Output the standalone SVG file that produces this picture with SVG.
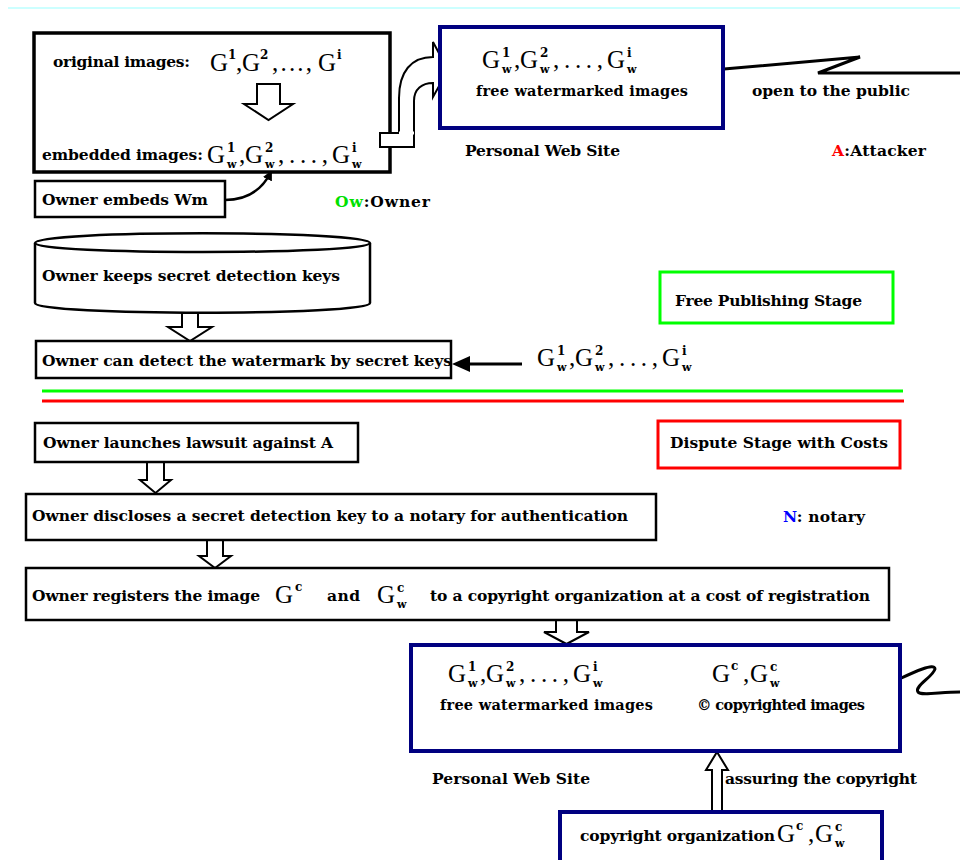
<svg xmlns="http://www.w3.org/2000/svg" width="960" height="860" viewBox="0 0 960 860">
<defs>
<style>
.t{font-family:"DejaVu Serif","Liberation Serif",serif;font-weight:bold;font-size:15.5px;fill:#000}
.ts{font-family:"DejaVu Serif","Liberation Serif",serif;font-weight:bold;font-size:14.5px;fill:#000}
.g{font-family:"Liberation Serif","Times New Roman",serif;font-size:25px;fill:#000}
.sp{font-family:"DejaVu Serif","Liberation Serif",serif;font-weight:bold;font-size:12px;fill:#000}
.sb{font-family:"DejaVu Serif","Liberation Serif",serif;font-weight:bold;font-size:11px;fill:#000}
.box{fill:#fff;stroke:#000;stroke-width:2.5}
.box1{fill:#fff;stroke:#000;stroke-width:3.5}
.web{fill:#fff;stroke:#000080;stroke-width:4}
.hol{fill:#fff;stroke:#000;stroke-width:2}
.ln{fill:none;stroke:#000;stroke-width:2.5}
</style>
<marker id="ah" markerWidth="10" markerHeight="10" refX="8" refY="5" orient="auto" markerUnits="userSpaceOnUse">
<path d="M0,0 L10,5 L0,10 Z" fill="#000"/>
</marker>
</defs>
<rect width="960" height="860" fill="#fff"/>
<line x1="8" y1="8" x2="960" y2="8" stroke="#ccffff" stroke-width="2"/>

<g id="connectors">
<path class="hol" d="M399 140 L399 98 C399 72 411 57 433 57 L433 42 L448 70 L433 97 L433 83 C422 83 414 89 414 101 L414 140 Z"/>
<path class="ln" d="M225 200 C247 200 262 190 271 172" marker-end="url(#ah)"/>
<path d="M724 69 L860 57 L818 73 L960 73" fill="none" stroke="#000" stroke-width="3" stroke-linejoin="miter"/>
<path d="M897 680 C912 673 935 662 935 669 C933 677 914 686 918 692 C921 696 940 692 960 692" fill="none" stroke="#000" stroke-width="3"/>
<path class="hol" d="M182 313 L198 313 L198 327 L212 327 L190 341 L168 327 L182 327 Z"/>
<path class="hol" d="M147 462 L164 462 L164 480 L171 480 L155.5 493 L140 480 L147 480 Z"/>
<path class="hol" d="M207 540 L223 540 L223 556 L231 556 L215 568 L199 556 L207 556 Z"/>
<path class="hol" d="M556 620 L577 620 L577 632 L589 632 L566.5 644 L544 632 L556 632 Z"/>
<path class="hol" d="M712 812 L722 812 L722 770 L728 770 L717 752 L706 770 L712 770 Z"/>
<line x1="522" y1="364" x2="466" y2="364" stroke="#000" stroke-width="3"/>
<polygon points="452,364 470,356 470,372" fill="#000"/>
<line x1="42" y1="391" x2="903" y2="391" stroke="#00ff00" stroke-width="3"/>
<line x1="42" y1="401" x2="904" y2="401" stroke="#ff0000" stroke-width="3"/>
</g>

<g id="original">
<rect class="box1" x="34" y="33" width="356" height="139"/>
<text class="t" x="53" y="67" textLength="137">original images:</text>
<text class="g" x="210" y="71">G</text><text class="sp" x="228" y="59">1</text>
<text class="g" x="236" y="71">,</text>
<text class="g" x="242" y="71">G</text><text class="sp" x="260" y="59">2</text>
<text class="g" x="272" y="71" textLength="40" lengthAdjust="spacing">,...,</text>
<text class="g" x="318" y="71">G</text><text class="sp" x="337" y="59">i</text>
<path class="hol" d="M257 84 L280 84 L280 104 L293 104 L268.5 120 L244 104 L257 104 Z"/>
<text class="t" x="42" y="160" textLength="161">embedded images:</text>
<text class="g" x="207" y="163">G</text><text class="sp" x="227" y="152">1</text><text class="sb" x="227" y="168">w</text>
<text class="g" x="239" y="163">,</text>
<text class="g" x="245" y="163">G</text><text class="sp" x="265" y="152">2</text><text class="sb" x="265" y="168">w</text>
<text class="g" x="278" y="163" textLength="50" lengthAdjust="spacing">,...,</text>
<text class="g" x="332" y="163">G</text><text class="sp" x="352" y="152">i</text><text class="sb" x="352" y="168">w</text>
<rect class="hol" x="380" y="133" width="34" height="14"/>
<line x1="399" y1="133" x2="414" y2="133" stroke="#fff" stroke-width="3"/>
</g>

<g id="embed">
<rect class="box" x="35" y="181" width="190" height="36"/>
<text class="t" x="42" y="205" textLength="166">Owner embeds Wm</text>
</g>

<g id="legend-owner">
<text class="t" x="335" y="207" textLength="95"><tspan fill="#00e000">Ow</tspan>:Owner</text>
</g>

<g id="website-top">
<rect class="web" x="440" y="27" width="283" height="101"/>
<text class="g" x="482" y="68">G</text><text class="sp" x="502" y="57">1</text><text class="sb" x="502" y="73">w</text>
<text class="g" x="514" y="68">,</text>
<text class="g" x="520" y="68">G</text><text class="sp" x="540" y="57">2</text><text class="sb" x="540" y="73">w</text>
<text class="g" x="553" y="68" textLength="50" lengthAdjust="spacing">,...,</text>
<text class="g" x="607" y="68">G</text><text class="sp" x="627" y="57">i</text><text class="sb" x="627" y="73">w</text>
<text class="ts" x="476" y="96" textLength="212">free watermarked images</text>
</g>
<text class="t" x="465" y="156" textLength="155">Personal Web Site</text>
<text class="t" x="752" y="96" textLength="158">open to the public</text>
<text class="t" x="832" y="156" textLength="94"><tspan fill="#ff0000">A</tspan>:Attacker</text>

<g id="keys">
<path class="box" d="M35 243 C35 230 370 230 370 243 L370 303 C370 316 35 316 35 303 Z"/>
<path class="ln" d="M35 243 C35 255 370 255 370 243"/>
<text class="t" x="42" y="281" textLength="298">Owner keeps secret detection keys</text>
</g>

<g id="free-stage">
<rect x="660" y="272" width="233" height="51" fill="#fff" stroke="#00ff00" stroke-width="3"/>
<text class="t" x="675" y="306" textLength="187">Free Publishing Stage</text>
</g>

<g id="detect">
<rect class="box" x="36" y="341" width="415" height="37"/>
<text class="t" x="42" y="366" textLength="410">Owner can detect the watermark by secret keys</text>
</g>
<g id="public-images">
<text class="g" x="537" y="366">G</text><text class="sp" x="557" y="355">1</text><text class="sb" x="557" y="371">w</text>
<text class="g" x="569" y="366">,</text>
<text class="g" x="575" y="366">G</text><text class="sp" x="595" y="355">2</text><text class="sb" x="595" y="371">w</text>
<text class="g" x="608" y="366" textLength="50" lengthAdjust="spacing">,...,</text>
<text class="g" x="662" y="366">G</text><text class="sp" x="682" y="355">i</text><text class="sb" x="682" y="371">w</text>
</g>

<g id="lawsuit">
<rect class="box" x="35" y="423" width="323" height="39"/>
<text class="t" x="43" y="448" textLength="290">Owner launches lawsuit against A</text>
</g>

<g id="dispute-stage">
<rect x="658" y="421" width="242" height="47" fill="#fff" stroke="#ff0000" stroke-width="3"/>
<text class="t" x="670" y="448" textLength="218">Dispute Stage with Costs</text>
</g>

<g id="disclose">
<rect class="box" x="26" y="494" width="630" height="46"/>
<text class="t" x="32" y="521" textLength="596">Owner discloses a secret detection key to a notary for authentication</text>
</g>
<text class="t" x="783" y="522" textLength="82"><tspan fill="#0000ff">N</tspan>: notary</text>

<g id="register">
<rect class="box" x="26" y="568" width="863" height="52"/>
<text class="t" x="32" y="601" textLength="228">Owner registers the image</text>
<text class="g" x="275" y="603">G</text><text class="sp" x="295" y="591">c</text>
<text class="t" x="327" y="601" textLength="33">and</text>
<text class="g" x="377" y="603">G</text><text class="sp" x="397" y="592">c</text><text class="sb" x="397" y="608">w</text>
<text class="t" x="430" y="601" textLength="440">to a copyright organization at a cost of registration</text>
</g>

<g id="website-bottom">
<rect class="web" x="411" y="645" width="489" height="106"/>
<text class="g" x="448" y="682">G</text><text class="sp" x="468" y="671">1</text><text class="sb" x="468" y="687">w</text>
<text class="g" x="480" y="682">,</text>
<text class="g" x="486" y="682">G</text><text class="sp" x="506" y="671">2</text><text class="sb" x="506" y="687">w</text>
<text class="g" x="519" y="682" textLength="50" lengthAdjust="spacing">,...,</text>
<text class="g" x="573" y="682">G</text><text class="sp" x="593" y="671">i</text><text class="sb" x="593" y="687">w</text>
<text class="ts" x="440" y="710" textLength="213">free watermarked images</text>
<text class="g" x="712" y="682">G</text><text class="sp" x="731" y="670">c</text>
<text class="g" x="743" y="682">,</text>
<text class="g" x="750" y="682">G</text><text class="sp" x="770" y="671">c</text><text class="sb" x="770" y="687">w</text>
<text class="ts" x="697" y="710" textLength="168">© copyrighted images</text>
</g>
<text class="t" x="432" y="784" textLength="158">Personal Web Site</text>
<text class="t" x="725" y="784" textLength="192">assuring the copyright</text>

<g id="copyright-org">
<rect class="web" x="560" y="812" width="322" height="60"/>
<text class="t" x="580" y="841" textLength="195">copyright organization</text>
<text class="g" x="777" y="842">G</text><text class="sp" x="796" y="830">c</text>
<text class="g" x="808" y="842">,</text>
<text class="g" x="815" y="842">G</text><text class="sp" x="835" y="831">c</text><text class="sb" x="835" y="847">w</text>
</g>
</svg>
